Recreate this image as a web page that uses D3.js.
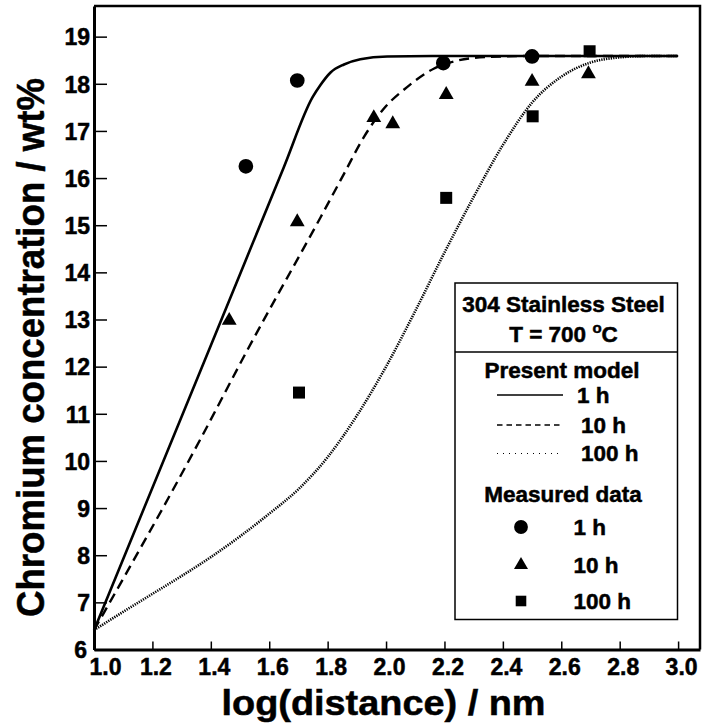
<!DOCTYPE html>
<html>
<head>
<meta charset="utf-8">
<script src="https://cdn.jsdelivr.net/npm/d3@7"></script>
<style>
  body { margin: 0; background: #fff; }
  text { font-family: "Liberation Sans", Arial, Helvetica, sans-serif; font-weight: bold; fill: #000;
         stroke: #000; stroke-width: 0.5px; }
</style>
</head>
<body>
<svg id="chart" width="702" height="728"></svg>
<script>
// Axis ticks
const xTicks = [1.0, 1.2, 1.4, 1.6, 1.8, 2.0, 2.2, 2.4, 2.6, 2.8, 3.0];
const yTicks = [6, 7, 8, 9, 10, 11, 12, 13, 14, 15, 16, 17, 18, 19];

// Present model: Cr profiles [log(distance), wt%]
const model1h = [
  [1.0, 6.41], [1.4, 12.45], [1.65, 16.23], [1.748, 17.71], [1.776, 17.98],
  [1.81, 18.24], [1.856, 18.41], [1.912, 18.52], [2.004, 18.58], [2.2, 18.59], [3.0, 18.59]
];
const model10h = [
  [1.0, 6.41], [1.366, 10.48], [1.525, 12.35], [1.776, 15.17], [1.856, 16.09],
  [1.924, 16.87], [1.992, 17.47], [2.072, 17.93], [2.163, 18.32], [2.25, 18.5],
  [2.35, 18.57], [2.5, 18.59], [3.0, 18.59]
];
const model100h = [
  [1.0, 6.41], [1.1, 6.8], [1.2, 7.18], [1.3, 7.56], [1.4, 7.96], [1.5, 8.4],
  [1.6, 8.88], [1.7, 9.4], [1.8, 10.08], [1.9, 10.96], [2.0, 12.0], [2.1, 13.18],
  [2.2, 14.42], [2.3, 15.6], [2.4, 16.7], [2.5, 17.6], [2.6, 18.15], [2.7, 18.45],
  [2.8, 18.56], [2.9, 18.59], [3.0, 18.59]
];

// Measured data [log(distance), wt%]
const measured1h = [[1.52, 16.25], [1.696, 18.07], [2.196, 18.44], [2.50, 18.58]];
const measured10h = [[1.463, 12.98], [1.696, 15.07], [1.958, 17.28], [2.023, 17.15],
                     [2.206, 17.77], [2.50, 18.05], [2.693, 18.21]];
const measured100h = [[1.702, 11.45], [2.206, 15.58], [2.502, 17.31], [2.697, 18.69]];

// Legend texts
const legendHeader = ["304 Stainless Steel", "T = 700 "];
const modelLabels = ["1 h", "10 h", "100 h"];
const dataLabels = ["1 h", "10 h", "100 h"];

const svg = d3.select("#chart");
const plotLeft = 94, plotRight = 700, plotTop = 6, plotBottom = 649.5;

const x = d3.scaleLinear().domain([1, 3.075]).range([plotLeft, plotRight]);
const y = d3.scaleLinear().domain([6, 19.65]).range([plotBottom, plotTop]);

// Frame (top and right)
svg.append("path")
  .attr("d", `M${plotLeft},${plotTop}H${plotRight}V${plotBottom}`)
  .attr("fill", "none").attr("stroke", "#000").attr("stroke-width", 2.5);

// X axis
const xAxis = svg.append("g").attr("transform", `translate(0,${plotBottom})`)
  .call(d3.axisBottom(x).tickValues(xTicks).tickSizeInner(-8).tickSizeOuter(0)
    .tickFormat(d3.format(".1f")));
xAxis.select(".domain").attr("stroke-width", 3);
xAxis.selectAll(".tick line").attr("stroke-width", 1.5);
xAxis.selectAll(".tick text")
  .attr("font-size", 23).attr("y", 25.5).attr("dy", 0)
  .attr("dx", (d, i) => i === 0 ? 11 : 3);

// Y axis
const yAxis = svg.append("g").attr("transform", `translate(${plotLeft},0)`)
  .call(d3.axisLeft(y).tickValues(yTicks).tickSizeInner(-13).tickSizeOuter(0));
yAxis.select(".domain").attr("stroke-width", 3);
yAxis.selectAll(".tick line").attr("stroke-width", 1.5);
yAxis.selectAll(".tick text")
  .attr("font-size", 23).attr("x", -4).attr("dy", "0.36em")
  .attr("dx", d => d === 6 ? -3 : 0);

// Axis titles
svg.append("text")
  .attr("x", 383.5).attr("y", 715)
  .attr("text-anchor", "middle").attr("font-size", 35)
  .attr("textLength", 324).attr("lengthAdjust", "spacingAndGlyphs")
  .text("log(distance) / nm");

svg.append("text")
  .attr("transform", "translate(43.5,347.5) rotate(-90)")
  .attr("text-anchor", "middle").attr("font-size", 38.5)
  .attr("textLength", 539).attr("lengthAdjust", "spacingAndGlyphs")
  .text("Chromium concentration / wt%");

// Model curves
const line = d3.line().x(d => x(d[0])).y(d => y(d[1])).curve(d3.curveMonotoneX);
const g = svg.append("g");
g.append("path").datum(model100h).attr("d", line)
  .attr("fill", "none").attr("stroke", "#000").attr("stroke-width", 2.6)
  .attr("stroke-dasharray", "1.3,1.1");
g.append("path").datum(model10h).attr("d", line)
  .attr("fill", "none").attr("stroke", "#000").attr("stroke-width", 2.4)
  .attr("stroke-dasharray", "10,6");
g.append("path").datum(model1h).attr("d", line)
  .attr("fill", "none").attr("stroke", "#000").attr("stroke-width", 2.6);

// Measured points
const sym = (type, size) => d3.symbol().type(type).size(size)();
function points(data, type, size) {
  g.selectAll(null).data(data).enter().append("path")
    .attr("d", sym(type, size))
    .attr("transform", d => `translate(${x(d[0])},${y(d[1])})`)
    .attr("fill", "#000");
}
points(measured1h, d3.symbolCircle, 170);
points(measured10h, d3.symbolTriangle, 95);
points(measured100h, d3.symbolSquare, 144);

// Legend
const lg = svg.append("g");
lg.append("rect").attr("x", 455).attr("y", 283).attr("width", 222.5).attr("height", 336.5)
  .attr("fill", "#fff").attr("stroke", "#000").attr("stroke-width", 1.5);
lg.append("line").attr("x1", 455).attr("x2", 677.5).attr("y1", 352).attr("y2", 352)
  .attr("stroke", "#000").attr("stroke-width", 1.5);
lg.append("text").attr("x", 563.5).attr("y", 311.5).attr("text-anchor", "middle")
  .attr("font-size", 22.5).text(legendHeader[0]);
const tLine = lg.append("text").attr("x", 563.5).attr("y", 342).attr("text-anchor", "middle")
  .attr("font-size", 22.5);
tLine.append("tspan").text(legendHeader[1]);
tLine.append("tspan").attr("font-size", 15).attr("dy", -9).text("o");
tLine.append("tspan").attr("dy", 9).text("C");

lg.append("text").attr("x", 562).attr("y", 377.5).attr("text-anchor", "middle")
  .attr("font-size", 22.5).text("Present model");
const dashes = [null, "5.5,4", "1,5"];
const lineRowY = [395, 425, 453.5];
modelLabels.forEach((lab, i) => {
  lg.append("line").attr("x1", 497).attr("x2", 563).attr("y1", lineRowY[i]).attr("y2", lineRowY[i])
    .attr("stroke", "#000").attr("stroke-width", i === 2 ? 1.2 : 1.5)
    .attr("stroke-dasharray", dashes[i]);
  lg.append("text").attr("x", i === 0 ? 577 : 581).attr("y", lineRowY[i] + 7.5)
    .attr("font-size", 22.5).text(lab);
});

lg.append("text").attr("x", 563).attr("y", 501.5).attr("text-anchor", "middle")
  .attr("font-size", 22.5).text("Measured data");
const symRowY = [527, 565, 601];
const symTypes = [[d3.symbolCircle, 150], [d3.symbolTriangle, 85], [d3.symbolSquare, 112]];
dataLabels.forEach((lab, i) => {
  lg.append("path").attr("d", sym(symTypes[i][0], symTypes[i][1]))
    .attr("transform", `translate(521,${symRowY[i]})`).attr("fill", "#000");
  lg.append("text").attr("x", 573.5).attr("y", symRowY[i] + 8)
    .attr("font-size", 22.5).text(lab);
});
</script>
</body>
</html>
